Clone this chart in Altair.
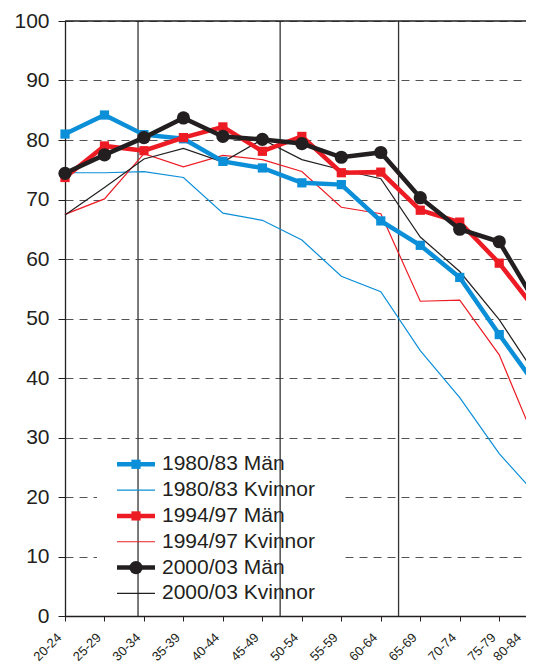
import json
import altair as alt
import pandas as pd

# ---- data ----
ages = ["20-24", "25-29", "30-34", "35-39", "40-44", "45-49", "50-54",
        "55-59", "60-64", "65-69", "70-74", "75-79", "80-84"]
series_names = ["1980/83 Män", "1980/83 Kvinnor", "1994/97 Män",
                "1994/97 Kvinnor", "2000/03 Män", "2000/03 Kvinnor"]
m_1980 = [81.0, 84.2, 80.9, 80.2, 76.4, 75.3, 72.8, 72.5, 66.4, 62.3, 56.9, 47.3, 38.1]
k_1980 = [74.5, 74.5, 74.7, 73.7, 67.7, 66.5, 63.2, 57.1, 54.5, 44.6, 36.7, 27.3, 19.9]
m_1994 = [73.7, 79.0, 78.2, 80.4, 82.2, 78.1, 80.6, 74.5, 74.6, 68.2, 66.2, 59.3, 50.8]
k_1994 = [67.5, 70.1, 77.7, 75.5, 77.4, 76.7, 74.7, 68.7, 67.6, 52.9, 53.1, 43.9, 28.0]
m_2000 = [74.4, 77.5, 80.4, 83.7, 80.6, 80.1, 79.4, 77.1, 77.9, 70.3, 65.0, 62.9, 51.8]
k_2000 = [67.4, 72.0, 76.8, 78.6, 76.3, 80.1, 76.7, 75.0, 73.5, 63.7, 57.9, 49.8, 39.8]
dividers = [1.85, 5.45, 8.45]
y_ticks = list(range(0, 101, 10))

values_by_series = dict(zip(series_names, [m_1980, k_1980, m_1994, k_1994, m_2000, k_2000]))

# ---- styles ----
BLUE, RED, BLACK = "#0b8fd8", "#ed1c24", "#231f20"
FONT = "Liberation Sans"
style = {
    "1980/83 Män": dict(color=BLUE, width=4.5, shape="square", size=85),
    "1980/83 Kvinnor": dict(color=BLUE, width=1.2, shape=None, size=0),
    "1994/97 Män": dict(color=RED, width=4.5, shape="square", size=85),
    "1994/97 Kvinnor": dict(color=RED, width=1.2, shape=None, size=0),
    "2000/03 Män": dict(color=BLACK, width=4.5, shape="circle", size=175),
    "2000/03 Kvinnor": dict(color=BLACK, width=1.2, shape=None, size=0),
}

rows = []
for name in series_names:
    for i, (a, v) in enumerate(zip(ages, values_by_series[name])):
        rows.append({"series": name, "age": a, "idx": i, "value": v})
df = pd.DataFrame(rows)

last_idx = len(ages) - 1
xscale = alt.Scale(domain=[0, last_idx], range=[0, 473.7], nice=False, zero=False)
yscale = alt.Scale(domain=[0, 100], nice=False)
xaxis = alt.Axis(values=list(range(len(ages))), labelExpr=f"{json.dumps(ages)}[datum.value]",
                 labelAngle=-45, labelAlign="right", labelBaseline="middle",
                 labelOverlap=False, labelBound=False,
                 labelOffset={"condition": {"test": f"datum.value == {last_idx}", "value": -20},
                              "value": -6},
                 labelFont=FONT, labelFontSize=13, labelColor=BLACK, labelPadding=14,
                 tickSize=5, tickColor=BLACK, domainColor=BLACK, domainWidth=1.3,
                 grid=False, title=None)
yaxis = alt.Axis(values=y_ticks, grid=True, gridDash=[8, 6], gridColor="#555555",
                 gridWidth=1.1, labelFont=FONT, labelFontSize=21, labelColor=BLACK,
                 labelPadding=9, tickSize=7, tickColor=BLACK, domainColor=BLACK,
                 domainWidth=1.3, title=None)


def X(field):
    return alt.X(field, scale=xscale, axis=xaxis)


def Y(field):
    return alt.Y(field, scale=yscale, axis=yaxis)


layers = []

# white legend background
layers.append(
    alt.Chart(pd.DataFrame({"a": [0]})).mark_rect(fill="white").encode(
        x=alt.value(32), x2=alt.value(276), y=alt.value(422), y2=alt.value(590))
)

# vertical dividers and top border
layers.append(
    alt.Chart(pd.DataFrame({"pos": dividers})).mark_rule(color="#333333", strokeWidth=1.3)
    .encode(x=X("pos:Q"))
)
layers.append(
    alt.Chart(pd.DataFrame({"v": [100]})).mark_rule(color=BLACK, strokeWidth=1.3)
    .encode(y=Y("v:Q"))
)

base = alt.Chart(df)
draw_order = ["1980/83 Kvinnor", "1994/97 Kvinnor", "2000/03 Kvinnor",
              "1980/83 Män", "1994/97 Män", "2000/03 Män"]
for name in draw_order:
    st = style[name]
    sub = base.transform_filter(alt.datum.series == name)
    layers.append(sub.mark_line(color=st["color"], strokeWidth=st["width"])
                  .encode(x=X("idx:Q"), y=Y("value:Q"), order="idx:Q"))
    if st["shape"]:
        layers.append(sub.mark_point(filled=True, opacity=1, color=st["color"],
                                     shape=st["shape"], size=st["size"])
                      .encode(x=X("idx:Q"), y=Y("value:Q")))

# manual legend
leg = pd.DataFrame({"series": series_names, "row": list(range(len(series_names)))})
leg_base = alt.Chart(leg).transform_calculate(ly="25.5 - datum.row * 4.34")
for name in series_names:
    st = style[name]
    sub = leg_base.transform_filter(alt.datum.series == name)
    layers.append(sub.mark_rule(color=st["color"], strokeWidth=st["width"])
                  .encode(x=alt.value(52), x2=alt.value(90), y=Y("ly:Q")))
    if st["shape"]:
        layers.append(sub.mark_point(filled=True, opacity=1, color=st["color"],
                                     shape=st["shape"], size=st["size"])
                      .encode(x=alt.value(71), y=Y("ly:Q")))
layers.append(
    leg_base.mark_text(align="left", baseline="middle", font=FONT, fontSize=21, color=BLACK)
    .encode(x=alt.value(97), y=Y("ly:Q"), text="series:N")
)

chart = alt.layer(*layers).properties(
    width=461, height=595,
    autosize=alt.AutoSizeParams(type="none"),
    padding={"left": 57, "top": 13, "right": 0, "bottom": 52},
).configure_view(stroke=None)

chart.save("out.html", embed_options={"renderer": "svg", "actions": False})
